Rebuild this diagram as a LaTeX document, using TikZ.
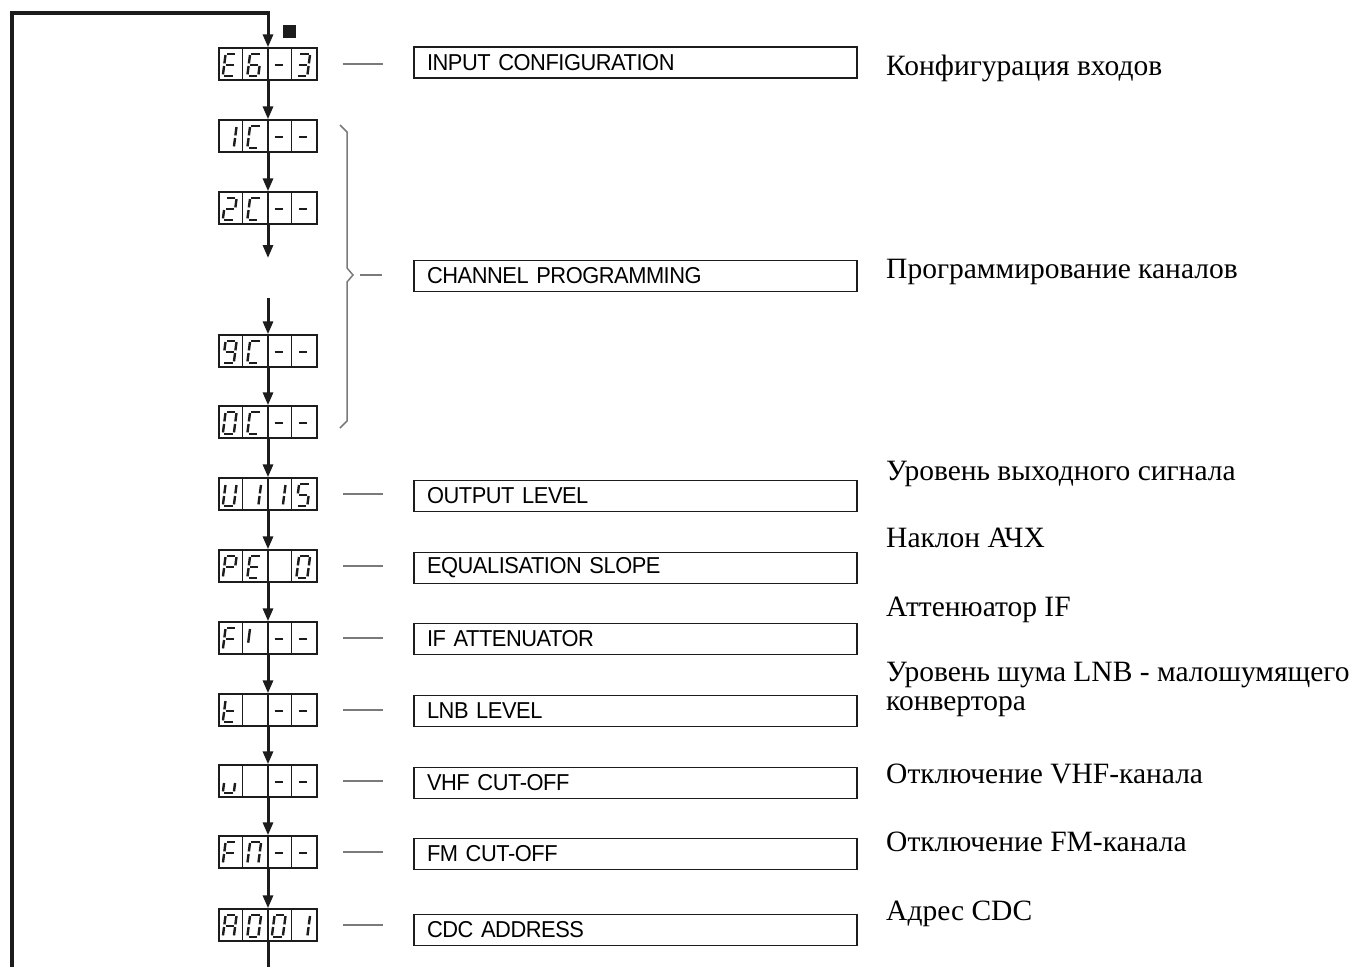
\documentclass[tikz,border=0pt]{standalone}
\usepackage{fontspec}
\setmainfont{Liberation Serif}
\newfontfamily\boxfont[FakeStretch=0.95,LetterSpace=-2]{Liberation Sans}
\usetikzlibrary{arrows.meta,calc}

\definecolor{ink}{HTML}{1C1C1C}
\definecolor{rule}{HTML}{7A7A7A}

% seven-segment strokes; local y grows upwards as negative values
\newcommand\segA{\draw[seg] (1.3,-22)--(9.7,-22);}
\newcommand\segB{\draw[seg] (11,-20.7)--(11,-12.3);}
\newcommand\segC{\draw[seg] (11,-9.7)--(11,-1.3);}
\newcommand\segD{\draw[seg] (1.3,0)--(9.7,0);}
\newcommand\segE{\draw[seg] (0,-9.7)--(0,-1.3);}
\newcommand\segF{\draw[seg] (0,-20.7)--(0,-12.3);}
\newcommand\segG{\draw[seg] (1.3,-11)--(9.7,-11);}
\newcommand\segI{\draw[seg] (0,-20.7)--(0,-7);}

% glyphs of the display
\newcommand\glE{\segA\segD\segE\segF\segG}
\newcommand\glSix{\segA\segC\segD\segE\segF\segG}
\newcommand\glDash{\segG}
\newcommand\glThree{\segA\segB\segC\segD\segG}
\newcommand\glOne{\segB\segC}
\newcommand\glC{\segA\segD\segE\segF}
\newcommand\glTwo{\segA\segB\segG\segE\segD}
\newcommand\glNine{\segA\segB\segC\segD\segF\segG}
\newcommand\glZero{\segA\segB\segC\segD\segE\segF}
\newcommand\glU{\segB\segC\segD\segE\segF}
\newcommand\glFive{\segA\segF\segG\segC\segD}
\newcommand\glP{\segA\segB\segF\segG\segE}
\newcommand\glF{\segA\segF\segG\segE}
\newcommand\glI{\segI}
\newcommand\glT{\segD\segE\segF\segG}
\newcommand\glSmallU{\segC\segD\segE}
\newcommand\glN{\segA\segB\segC\segE\segF}
\newcommand\glA{\segA\segB\segC\segE\segF\segG}
\newcommand\glBlank{}

% one glyph inside cell #2 (0..3) of display node #1
\newcommand\cellglyph[3]{%
  \begin{scope}[shift={($(#1.south west)+(#2*24.5+4.5,-5)$)},xslant=0.13]
    #3
  \end{scope}}

% a four-cell display: name, centre y, four glyphs
\newcommand\display[6]{%
  \node[disp] (#1) at (268,#2) {};
  \draw[cellrule] ($(#1.south west)+(24.5,0)$) -- ($(#1.north west)+(24.5,0)$);
  \draw[midrule] (#1.south) -- (#1.north);
  \draw[cellrule] ($(#1.south west)+(73.5,0)$) -- ($(#1.north west)+(73.5,0)$);
  \cellglyph{#1}{0}{#3}\cellglyph{#1}{1}{#4}\cellglyph{#1}{2}{#5}\cellglyph{#1}{3}{#6}}

\tikzset{
  disp/.style={draw=ink,line width=1.4pt,minimum width=98pt,minimum height=32pt,inner sep=0pt},
  cellrule/.style={ink,line width=1.2pt},
  midrule/.style={ink,line width=2.6pt},
  seg/.style={ink,line width=2.4pt},
  flow/.style={ink,line width=3pt,-{Triangle[length=13pt,width=10pt]}},
  loopline/.style={ink,line width=4pt},
  tick/.style={rule,line width=1.3pt},
  brace/.style={rule,line width=1.5pt},
  lbl/.style={draw=ink,line width=1.3pt,minimum width=443pt,minimum height=31pt,
    text width=417pt,inner xsep=13pt,align=left,font=\boxfont\fontsize{23}{26}\selectfont},
  ru/.style={anchor=base west,inner sep=0pt,font=\fontsize{29.5}{29.5}\selectfont}
}

\begin{document}
\begin{tikzpicture}[x=1pt,y=-1pt]
\useasboundingbox (0,0) rectangle (1353,967);

% displays
\display{d1}{64}{\glE}{\glSix}{\glDash}{\glThree}
\display{d2}{136}{\glOne}{\glC}{\glDash}{\glDash}
\display{d3}{208}{\glTwo}{\glC}{\glDash}{\glDash}
\display{d4}{351}{\glNine}{\glC}{\glDash}{\glDash}
\display{d5}{422}{\glZero}{\glC}{\glDash}{\glDash}
\display{d6}{494}{\glU}{\glOne}{\glOne}{\glFive}
\display{d7}{566}{\glP}{\glE}{\glBlank}{\glZero}
\display{d8}{638}{\glF}{\glI}{\glDash}{\glDash}
\display{d9}{710}{\glT}{\glBlank}{\glDash}{\glDash}
\display{d10}{781}{\glSmallU}{\glBlank}{\glDash}{\glDash}
\display{d11}{852}{\glF}{\glN}{\glDash}{\glDash}
\display{d12}{925}{\glA}{\glZero}{\glZero}{\glOne}

% return loop and marker
\coordinate (loopbot) at (12,967);
\coordinate (looptop) at (268,13);
\coordinate (exitbot) at (268,967);
\node[fill=ink,minimum size=13pt,inner sep=0pt] (mark) at (289,31.5) {};
\draw[loopline] (loopbot) |- ([xshift=1.5pt]looptop);
\draw[flow] (looptop) -- (d1.north);

% flow between displays
\coordinate (gapA) at (268,258);
\coordinate (gapB) at (268,298);
\draw[flow] (d1.south) -- (d2.north);
\draw[flow] (d2.south) -- (d3.north);
\draw[flow] (d3.south) -- (gapA);
\draw[flow] (gapB) -- (d4.north);
\draw[flow] (d4.south) -- (d5.north);
\draw[flow] (d5.south) -- (d6.north);
\draw[flow] (d6.south) -- (d7.north);
\draw[flow] (d7.south) -- (d8.north);
\draw[flow] (d8.south) -- (d9.north);
\draw[flow] (d9.south) -- (d10.north);
\draw[flow] (d10.south) -- (d11.north);
\draw[flow] (d11.south) -- (d12.north);
\draw[ink,line width=3pt] (d12.south) -- (exitbot);

% menu labels
\node[lbl] (l1) at (635.5,62.5) {INPUT CONFIGURATION};
\node[lbl] (l2) at (635.5,276) {CHANNEL PROGRAMMING};
\node[lbl] (l3) at (635.5,496) {OUTPUT LEVEL};
\node[lbl] (l4) at (635.5,568) {EQUALISATION SLOPE};
\node[lbl] (l5) at (635.5,639) {IF ATTENUATOR};
\node[lbl] (l6) at (635.5,711) {LNB LEVEL};
\node[lbl] (l7) at (635.5,783) {VHF CUT-OFF};
\node[lbl] (l8) at (635.5,854) {FM CUT-OFF};
\node[lbl] (l9) at (635.5,930) {CDC ADDRESS};

% ticks from displays to labels
\draw[tick] ($(d1.east)+(25,0)$) -- ($(d1.east)+(65,0)$);
\draw[tick] ($(d6.east)+(25,0)$) -- ($(d6.east)+(65,0)$);
\draw[tick] ($(d7.east)+(25,0)$) -- ($(d7.east)+(65,0)$);
\draw[tick] ($(d8.east)+(25,0)$) -- ($(d8.east)+(65,0)$);
\draw[tick] ($(d9.east)+(25,0)$) -- ($(d9.east)+(65,0)$);
\draw[tick] ($(d10.east)+(25,0)$) -- ($(d10.east)+(65,0)$);
\draw[tick] ($(d11.east)+(25,0)$) -- ($(d11.east)+(65,0)$);
\draw[tick] ($(d12.east)+(25,0)$) -- ($(d12.east)+(65,0)$);

% brace grouping the channel displays
\coordinate (bracetip) at (353,275);
\draw[brace] (340,125) -- (347,132) -- (347,268) -- (bracetip) -- (347,282) -- (347,421) -- (340,428);
\draw[tick] ($(bracetip)+(7,0)$) -- ($(bracetip)+(29,0)$);

% Russian descriptions
\node[ru] (r1) at (886,75) {Конфигурация входов};
\node[ru] (r2) at (886,278) {Программирование каналов};
\node[ru] (r3) at (886,480) {Уровень выходного сигнала};
\node[ru] (r4) at (886,547) {Наклон АЧХ};
\node[ru] (r5) at (886,616) {Аттенюатор IF};
\node[ru] (r6) at (886,681) {Уровень шума LNB - малошумящего};
\node[ru] (r6b) at (886,710) {конвертора};
\node[ru] (r7) at (886,783) {Отключение VHF-канала};
\node[ru] (r8) at (886,851) {Отключение FM-канала};
\node[ru] (r9) at (886,920) {Адрес CDC};
\end{tikzpicture}
\end{document}
